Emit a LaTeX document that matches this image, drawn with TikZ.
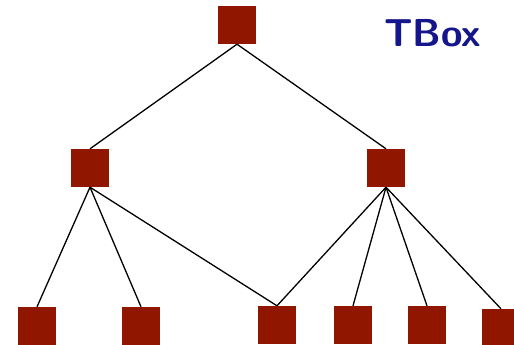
\documentclass[tikz,border=0pt]{standalone}
\usetikzlibrary{positioning}
\definecolor{boxred}{RGB}{144,22,0}
\definecolor{titleblue}{RGB}{22,22,140}
\begin{document}
\begin{tikzpicture}[x=1pt,y=-1pt,
  concept/.style={fill=boxred,draw=none,minimum width=38pt,minimum height=38pt,inner sep=0pt},
  link/.style={line width=1.3pt,black}]
\useasboundingbox (0,0) rectangle (514,345);
% concept hierarchy
\node[concept] (top) at (237,25) {};
\node[concept] (ml) at (90,168) {};
\node[concept] (mr) at (386,168) {};
\node[concept] (b1) at (37,326) {};
\node[concept] (b2) at (141,326) {};
\node[concept] (b3) at (277,325) {};
\node[concept] (b4) at (353,325) {};
\node[concept] (b5) at (427,325) {};
\node[concept] (b6) at (501,328) {};
% subsumption links
\begin{scope}[on background layer/.try]
\draw[link] (top.south) -- (ml.north);
\draw[link] (top.south) -- (mr.north);
\draw[link] (ml.south) -- (b1.north);
\draw[link] (ml.south) -- (b2.north);
\draw[link] (ml.south) -- (b3.north);
\draw[link] (mr.south) -- (b3.north);
\draw[link] (mr.south) -- (b4.north);
\draw[link] (mr.south) -- (b5.north);
\draw[link] (mr.south) -- (b6.north);
\end{scope}
% redraw boxes over the link ends
\foreach \n in {top,ml,mr,b1,b2,b3,b4,b5,b6}{
  \fill[boxred] (\n.north west) rectangle (\n.south east);
}
\node[text=titleblue,font=\fontsize{39}{39}\selectfont\sffamily\bfseries,anchor=base west,inner sep=0pt] (title) at (384,47) {TBox};
\end{tikzpicture}
\end{document}
